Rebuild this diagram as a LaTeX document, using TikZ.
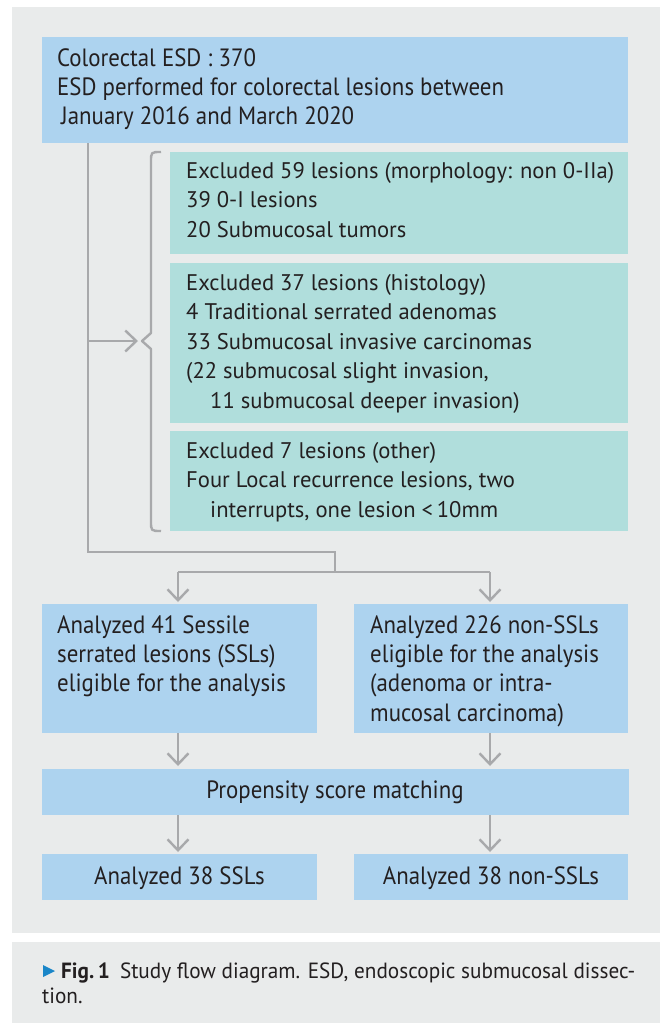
\documentclass[tikz,border=0pt]{standalone}
\usepackage{fontspec}
\setmainfont{PT Sans}
\newfontfamily\condfont[FakeStretch=0.915]{PT Sans}
\newfontfamily\normfont{PT Sans}
\newfontfamily\capfont[FakeStretch=0.965]{PT Sans}
\usetikzlibrary{arrows.meta}
\definecolor{bgpanel}{HTML}{E9EBEB}
\definecolor{bluebox}{HTML}{ADD3EF}
\definecolor{tealbox}{HTML}{B0DEDC}
\definecolor{linegray}{HTML}{A8A9AB}
\definecolor{txt}{HTML}{231F20}
\definecolor{capblue}{HTML}{1A86C8}
\begin{document}
\begin{tikzpicture}[x=1pt,y=-1pt,
  panel/.style={fill=bgpanel, draw=none},
  bbox/.style={fill=bluebox, draw=none, inner sep=0pt, anchor=north west},
  tbox/.style={fill=tealbox, draw=none, inner sep=0pt, anchor=north west},
  btxt/.style={inner sep=0pt, anchor=north west, align=left, text=txt, font=\condfont\fontsize{25}{29.3}\selectfont},
  bctr/.style={inner sep=0pt, anchor=north, align=center, text=txt, font=\condfont\fontsize{25}{29.3}\selectfont},
  ttxt/.style={inner sep=0pt, anchor=north west, align=left, text=txt, font=\normfont\fontsize{22.6}{29.5}\selectfont},
  ctxt/.style={inner sep=0pt, anchor=north west, align=left, text=txt, font=\capfont\fontsize{22}{25}\selectfont},
  conn/.style={draw=linegray, line width=2.4pt},
  arr/.style={conn, -{Straight Barb[length=11pt,width=21pt]}},
]
\newcommand{\fl}{\rule{0pt}{21pt}}
\useasboundingbox[fill=white] (0,0) rectangle (660,1023);
% panels
\fill[bgpanel] (12,7) rectangle (660,933);
\fill[bgpanel] (12,942) rectangle (660,1023);
% boxes
\node[bbox, minimum width=586pt, minimum height=106pt] (top) at (42,37) {};
\node[tbox, minimum width=458pt, minimum height=102pt] (ex1) at (170,152) {};
\node[tbox, minimum width=458pt, minimum height=160pt] (ex2) at (170,263) {};
\node[tbox, minimum width=458pt, minimum height=100pt] (ex3) at (170,431) {};
\node[bbox, minimum width=275pt, minimum height=129pt] (ssl) at (42,604) {};
\node[bbox, minimum width=274pt, minimum height=129pt] (non) at (354,604) {};
\node[bbox, minimum width=587pt, minimum height=46pt] (psm) at (42,769) {};
\node[bbox, minimum width=275pt, minimum height=46pt] (ssl2) at (42,854) {};
\node[bbox, minimum width=274pt, minimum height=46pt] (non2) at (354,854) {};
% texts
\node[btxt] (toptxt) at (57,66-21) {\fl Colorectal ESD : 370\\ESD performed for colorectal lesions between\\\hspace*{4pt}January 2016 and March 2020};
\node[ttxt] (ex1txt) at (186,178-21) {\fl Excluded 59 lesions (morphology: non 0-IIa)\\39 0-I lesions\\20 Submucosal tumors};
\node[ttxt] (ex2txt) at (186,290-21) {\fl Excluded 37 lesions (histology)\\4 Traditional serrated adenomas\\33 Submucosal invasive carcinomas\\(22 submucosal slight invasion,\\\hspace*{24pt}11 submucosal deeper invasion)};
\node[ttxt] (ex3txt) at (186,458-21) {\fl Excluded 7 lesions (other)\\Four Local recurrence lesions, two\\\hspace*{24pt}interrupts, one lesion <\,10mm};
\node[btxt] (ssltxt) at (57,633-21) {\fl Analyzed 41 Sessile\\serrated lesions (SSLs)\\eligible for the analysis};
\node[btxt] (nontxt) at (370,633-21) {\fl Analyzed 226 non-SSLs\\eligible for the analysis\\(adenoma or intra-\\mucosal carcinoma)};
\node[bctr] (psmtxt) at (335,798-21) {\fl Propensity score matching};
\node[bctr] (ssl2txt) at (179.5,884-21) {\fl Analyzed 38 SSLs};
\node[bctr] (non2txt) at (491,884-21) {\fl Analyzed 38 non-SSLs};
\node[ctxt] (cap) at (61,978-21) {\fl\textbf{Fig.\,1}\hspace{10pt}Study flow diagram. ESD, endoscopic submucosal dissec-\\\hspace*{-19pt}tion.};
\fill[capblue] (43,965) -- (55,971) -- (43,977) -- cycle;
% connectors
\coordinate (j1) at (88,552);
\coordinate (j2) at (335,552);
\coordinate (j3) at (335,572);
\coordinate (jl) at (178,572);
\coordinate (jr) at (490,572);
\coordinate (bt) at (142,341);
\draw[conn] (j1 |- top.south) -- (j1) -- (j2) -- (j3);
\draw[conn] (jl) -- (jr);
\draw[arr, shorten >=2pt] (jl) -- (jl |- ssl.north);
\draw[arr, shorten >=2pt] (jr) -- (jr |- non.north);
\draw[arr, shorten >=4pt] (j1 |- bt) -- (bt);
\draw[conn, line join=round] (161,152) .. controls (151,152) .. (151,162) -- (151,333) -- (bt) -- (151,349) -- (151,521) .. controls (151,531) .. (161,531);
\draw[arr, shorten >=3pt] (jl |- ssl.south) -- (jl |- psm.north);
\draw[arr, shorten >=3pt] (jr |- non.south) -- (jr |- psm.north);
\draw[arr, shorten >=2pt] (jl |- psm.south) -- (jl |- ssl2.north);
\draw[arr, shorten >=2pt] (jr |- psm.south) -- (jr |- non2.north);
\end{tikzpicture}
\end{document}
